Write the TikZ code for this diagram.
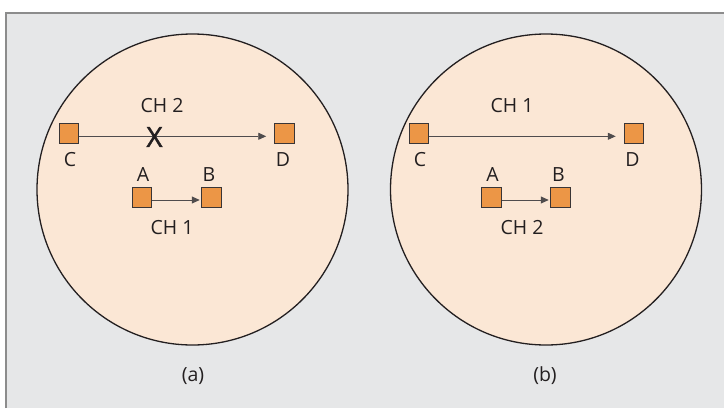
\documentclass[tikz,border=0pt]{standalone}
\usepackage{fontspec}
\setmainfont{Open Sans}
\newfontfamily\xmarkfont[FakeBold=1.6]{Open Sans}
\usetikzlibrary{arrows.meta}
\definecolor{bggray}{HTML}{E6E7E8}
\definecolor{framegray}{HTML}{8C8C8C}
\definecolor{peach}{HTML}{FBE7D5}
\definecolor{sqorange}{HTML}{EC9646}
\definecolor{ink}{HTML}{231F20}
\tikzset{
  region/.style={draw=ink, line width=1.3pt, fill=peach},
  station/.style={draw=ink!90, line width=1pt, fill=sqorange, minimum size=19.5pt, inner sep=0pt},
  lbl/.style={font=\fontsize{19.5}{22}\selectfont, text=ink, inner sep=0pt},
  link/.style={draw=ink!80, line width=0.9pt, -{Triangle[length=8pt,width=7pt]}},
}
\begin{document}
\begin{tikzpicture}[x=1pt,y=-1pt]
\useasboundingbox (0,0) rectangle (724,408);
\fill[white] (0,0) rectangle (724,408);
\fill[bggray] (6,13) rectangle (724,408);
\draw[framegray, line width=1.4pt] (6,408) -- (6,13) -- (724,13);

% (a)
\draw[region] (192.5,189.5) circle[radius=155.5];
\node[station] (aC) at (69,133.3) {};
\node[station] (aD) at (284.5,133.3) {};
\node[station] (aA) at (142,197.5) {};
\node[station] (aB) at (211.5,197.5) {};
\node[lbl] (aCl) at (70,160) {C};
\node[lbl] (aDl) at (283,160) {D};
\node[lbl] (aAl) at (143,175) {A};
\node[lbl] (aBl) at (209,175) {B};
\node[lbl] (ach2) at (162,106) {CH 2};
\node[lbl] (ach1) at (172,228) {CH 1};
\draw[link, shorten >=8pt] ([yshift=-3]aC.east) -- ([yshift=-3]aD.west);
\draw[link, shorten >=1.5pt] ([yshift=-2.5]aA.east) -- ([yshift=-2.5]aB.west);
\node[lbl, font=\xmarkfont\fontsize{28}{28}\selectfont] (ax) at (154.5,137) {X};
\node[lbl] (acap) at (193,376) {(a)};

% (b)
\draw[region] (546,189.5) circle[radius=155.5];
\node[station] (bC) at (419,133.3) {};
\node[station] (bD) at (634,133.3) {};
\node[station] (bA) at (491.5,197.5) {};
\node[station] (bB) at (560.5,197.5) {};
\node[lbl] (bCl) at (420,160) {C};
\node[lbl] (bDl) at (632.5,160) {D};
\node[lbl] (bAl) at (492.5,175) {A};
\node[lbl] (bBl) at (558.5,175) {B};
\node[lbl] (bch1) at (512,106) {CH 1};
\node[lbl] (bch2) at (522,228) {CH 2};
\draw[link, shorten >=8pt] ([yshift=-3]bC.east) -- ([yshift=-3]bD.west);
\draw[link, shorten >=1.5pt] ([yshift=-2.5]bA.east) -- ([yshift=-2.5]bB.west);
\node[lbl] (bcap) at (545,376) {(b)};
\end{tikzpicture}
\end{document}
